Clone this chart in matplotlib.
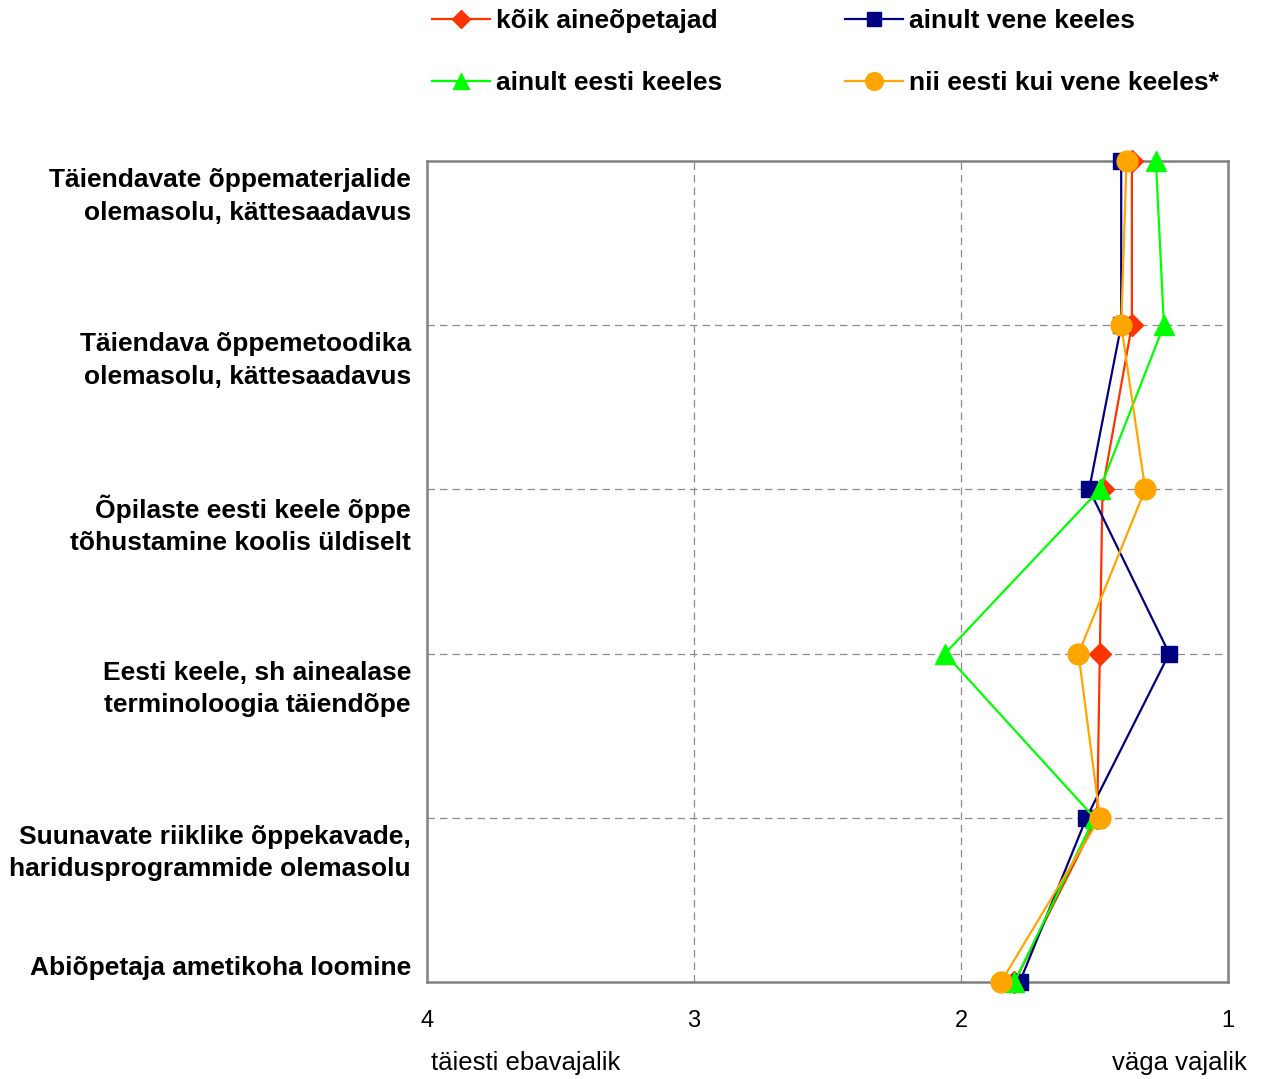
import matplotlib
matplotlib.use("Agg")
import matplotlib.pyplot as plt
import matplotlib.transforms as mtransforms

plt.rcParams['font.family'] = ['Liberation Sans', 'DejaVu Sans']

# categories, top to bottom
categories = [
    "Täiendavate õppematerjalide\nolemasolu, kättesaadavus",
    "Täiendava õppemetoodika\nolemasolu, kättesaadavus",
    "Õpilaste eesti keele õppe\ntõhustamine koolis üldiselt",
    "Eesti keele, sh ainealase\nterminoloogia täiendõpe",
    "Suunavate riiklike õppekavade,\nharidusprogrammide olemasolu",
    "Abiõpetaja ametikoha loomine",
]

# mean ratings (1 = väga vajalik, 4 = täiesti ebavajalik)
koik = [1.36, 1.36, 1.47, 1.48, 1.49, 1.80]
vene = [1.40, 1.40, 1.52, 1.22, 1.53, 1.78]
eesti = [1.27, 1.24, 1.48, 2.06, 1.50, 1.80]
mõlemad = [1.38, 1.40, 1.31, 1.56, 1.48, 1.85]

x_ticks = [4, 3, 2, 1]

fig = plt.figure(figsize=(12.64, 10.79), dpi=100)
ax = fig.add_axes([427 / 1264, 1 - 982 / 1079, (1228 - 427) / 1264, (982 - 161) / 1079])

ypos = list(range(len(categories)))

series = [
    (koik, "kõik aineõpetajad", "#FF3300", "D", 11),
    (vene, "ainult vene keeles", "#000080", "s", 12),
    (eesti, "ainult eesti keeles", "#00FF00", "^", 14),
    (mõlemad, "nii eesti kui vene keeles*", "#FFA500", "o", 15),
]
lines = {}
for vals, label, color, marker, ms in series:
    ln, = ax.plot(vals, ypos, color=color, marker=marker, markersize=ms,
                  linewidth=1.6, label=label, clip_on=False, zorder=3)
    lines[label] = ln

ax.set_xlim(4, 1)
ax.set_ylim(len(categories) - 1, 0)
ax.set_xticks(x_ticks)
ax.set_xticklabels([str(t) for t in x_ticks], fontsize=17)
ax.tick_params(axis='x', length=0, pad=20)
ax.set_yticks([])

for y in ypos[1:-1]:
    ax.axhline(y, color='#8c8c8c', linestyle=(0, (6, 4)), linewidth=0.9, zorder=1)
for x in [3, 2]:
    ax.axvline(x, color='#8c8c8c', linestyle=(0, (6, 4)), linewidth=0.9, zorder=1)

for sp in ax.spines.values():
    sp.set_color('#808080')
    sp.set_linewidth(1.8)

# category labels
trans = mtransforms.blended_transform_factory(ax.transAxes, ax.transData)
for i, cat in enumerate(categories):
    if "\n" in cat:
        yy = i + 0.215
    else:
        yy = i - 0.085
    ax.text(-0.02, yy, cat, transform=trans, ha='right', va='center',
            fontsize=19, fontweight='bold', linespacing=1.45)

fig.text(431 / 1264, 1 - 1063 / 1079, "täiesti ebavajalik", fontsize=18.5,
         ha='left', va='center')
fig.text(1247 / 1264, 1 - 1063 / 1079, "väga vajalik", fontsize=18.5,
         ha='right', va='center')

order = ["kõik aineõpetajad", "ainult eesti keeles",
         "ainult vene keeles", "nii eesti kui vene keeles*"]
leg = fig.legend([lines[k] for k in order], order, ncol=2,
                 loc='upper left', bbox_to_anchor=(419 / 1264, 1 + 4 / 1079),
                 frameon=False, prop={'weight': 'bold', 'size': 19},
                 handlelength=2.2, handletextpad=0.23, columnspacing=4.63,
                 labelspacing=1.45, markerscale=0.85, borderpad=0)

fig.savefig("out.png", dpi=100, facecolor='white')
